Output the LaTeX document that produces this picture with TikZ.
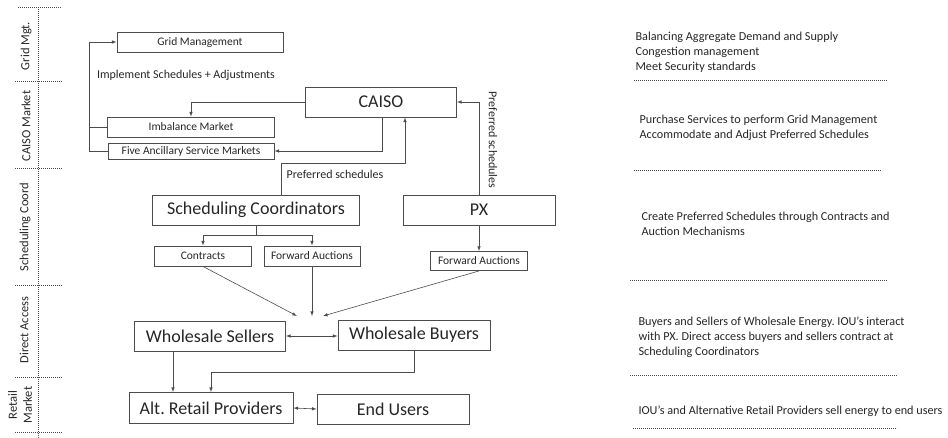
\documentclass[tikz,border=0pt]{standalone}
\usepackage{fontspec}
\setmainfont{Carlito}
\frenchspacing
\usetikzlibrary{positioning}
\definecolor{ink}{gray}{0.15}
\definecolor{edge}{gray}{0.3}

\begin{document}
\begin{tikzpicture}[x=1pt, y=-1pt, text=ink,
		font=\fontsize{11.5}{12}\selectfont,
		box/.style={draw=edge, line width=0.9pt, inner sep=0pt, minimum height=20pt},
		bigbox/.style={box, minimum height=30pt, font=\fontsize{18}{20}\selectfont},
		link/.style={draw=edge, line width=0.6pt},
		sep/.style={draw=edge, line width=0.8pt, dash pattern=on 1.2pt off 0.8pt},
		lane/.style={rotate=90, font=\fontsize{12.5}{13}\selectfont, align=center},
		note/.style={anchor=west, align=left, font=\fontsize{12.2}{14.8}\selectfont}]
		\useasboundingbox (0,0) rectangle (948,438);
		
		% lanes on the left
		\draw[sep] (38,7) -- (38,438);
		\draw[sep] (18,7) -- (62,7);
		\draw[sep] (15,81) -- (62,81);
		\draw[sep] (15,168) -- (62,168);
		\draw[sep] (15,285) -- (62,285);
		\draw[sep] (15,377) -- (62,377);
		\draw[sep] (15,432) -- (62,432);
		\node[lane] (lgrid) at (26,46) {Grid Mgt.};
		\node[lane] (lcaiso) at (26,126) {CAISO Market};
		\node[lane] (lsched) at (25,227) {Scheduling Coord};
		\node[lane] (ldirect) at (24,330) {Direct Access};
		\node[lane, font=\fontsize{12.5}{15}\selectfont] (lretail) at (20,405) {Retail\\Market};
		
		% boxes
		\node[box, minimum width=166pt] (grid) at (200,42) {Grid Management};
		\node[font=\fontsize{12}{13}\selectfont] (impl) at (186,75) {Implement Schedules + Adjustments};
		\node[box, minimum width=167pt] (imb) at (191,127) {Imbalance Market};
		\node[box, minimum width=166pt, minimum height=16pt] (anc) at (191,151) {Five Ancillary Service Markets};
		\node[bigbox, minimum width=151pt] (caiso) at (381,102) {CAISO};
		\node[bigbox, minimum width=207pt] (sc) at (256,210) {Scheduling Coordinators};
		\node[bigbox, minimum width=152pt] (px) at (479,210) {PX};
		\node[box, minimum width=97pt] (contr) at (203,256) {Contracts};
		\node[box, minimum width=96pt] (fwd) at (312,256) {Forward Auctions};
		\node[box, minimum width=97pt, minimum height=19pt] (pxfwd) at (479,261) {Forward Auctions};
		\node[bigbox, minimum width=151pt] (sell) at (210,336) {Wholesale Sellers};
		\node[bigbox, minimum width=152pt] (buy) at (414,335) {Wholesale Buyers};
		\node[bigbox, minimum width=164pt, minimum height=31pt] (retail) at (211,408) {Alt. Retail Providers};
		\node[bigbox, minimum width=152pt] (end) at (393,409) {End Users};
		
		% connectors
		\draw[link, -latex] (anc.west) -- ++(-18,0) |- (grid.west);
		\draw[link] (imb.west) -- ++(-18,0);
		\draw[link, -latex] (caiso.west) -| (imb.north);
		\draw[link, -latex] ([xshift=1pt]caiso.south) |- (anc.east);
		\draw[link, -latex] ([xshift=25pt]sc.north) -- ++(0,-31) -| ([xshift=24pt]caiso.south);
		\node[font=\fontsize{12}{13}\selectfont] (pref1) at (335,174) {Preferred schedules};
		\draw[link, -latex] (px.north) |- (caiso.east);
		\node[rotate=-90, font=\fontsize{12}{13}\selectfont] (pref2) at (493,140) {Preferred schedules};
		
		\draw[link] (sc.south) -- ++(0,10) coordinate (split);
		\draw[link, -latex] (split) -| (contr.north);
		\draw[link, -latex] (split) -| (fwd.north);
		\draw[link, -latex] (px.south) -- (pxfwd.north);
		
		\coordinate (meetl) at (297,316);
		\coordinate (meetm) at (312,316);
		\coordinate (meetr) at (323,316);
		\draw[link, -latex] (contr.south) -- (meetl);
		\draw[link, -latex] (fwd.south) -- (meetm);
		\draw[link, -latex] (pxfwd.south) -- (meetr);
		
		\draw[link, latex-latex] (sell.east) -- (sell.east -| buy.west);
		\draw[link, -latex] ([xshift=-37pt]sell.south) -- ([xshift=-37pt]sell.south |- retail.north);
		\draw[link, -latex] (buy.south) -- ++(0,22) -| (retail.north);
		\draw[link, latex-latex] (retail.east) -- (end.west);
		
		% notes on the right
		\node[note] (n1) at (632,52) {Balancing Aggregate Demand and Supply\\Congestion management\\Meet Security standards};
		\draw[sep] (634,80) -- (887,80);
		\node[note] (n2) at (636,128) {Purchase Services to perform Grid Management\\Accommodate and Adjust Preferred Schedules};
		\draw[sep] (634,170) -- (882,170);
		\node[note] (n3) at (638,224) {Create Preferred Schedules through Contracts and\\Auction Mechanisms};
		\draw[sep] (630,280) -- (887,280);
		\node[note] (n4) at (635,337) {Buyers and Sellers of Wholesale Energy. IOU’s interact\\with PX. Direct access buyers and sellers contract at\\Scheduling Coordinators};
		\draw[sep] (630,375) -- (897,375);
		\node[note] (n5) at (635,411) {IOU’s and Alternative Retail Providers sell energy to end users};
		\draw[sep] (633,428) -- (897,428);
\end{tikzpicture}
\end{document}
